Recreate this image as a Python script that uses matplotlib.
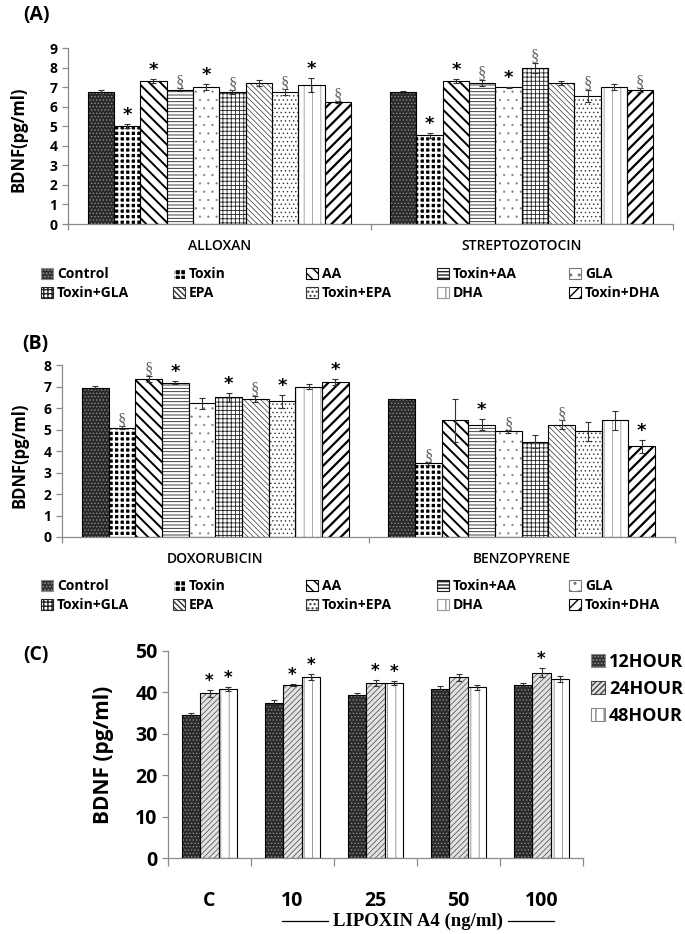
import numpy as np
import matplotlib.pyplot as plt
from matplotlib.patches import Patch
from matplotlib.lines import Line2D

plt.rcParams['font.family'] = ['Open Sans', 'DejaVu Sans']

# ---- data ----
treatments = ['Control', 'Toxin', 'AA', 'Toxin+AA', 'GLA',
              'Toxin+GLA', 'EPA', 'Toxin+EPA', 'DHA', 'Toxin+DHA']

groups_a = ['ALLOXAN', 'STREPTOZOTOCIN']
alloxan_mean = [6.73, 5.02, 7.33, 6.87, 7.00, 6.73, 7.23, 6.73, 7.12, 6.22]
alloxan_err = [0.12, 0.10, 0.10, 0.06, 0.15, 0.10, 0.15, 0.15, 0.35, 0.05]
alloxan_mark = ['', '*', '*', '§', '*', '§', '', '§', '*', '§']
strepto_mean = [6.73, 4.54, 7.33, 7.23, 7.00, 7.99, 7.23, 6.55, 7.00, 6.84]
strepto_err = [0.05, 0.12, 0.10, 0.15, 0.02, 0.25, 0.10, 0.30, 0.15, 0.10]
strepto_mark = ['', '*', '*', '§', '*', '§', '', '§', '', '§']

groups_b = ['DOXORUBICIN', 'BENZOPYRENE']
doxo_mean = [6.95, 5.08, 7.34, 7.18, 6.22, 6.49, 6.41, 6.32, 7.00, 7.21]
doxo_err = [0.07, 0.07, 0.15, 0.07, 0.25, 0.20, 0.15, 0.30, 0.12, 0.12]
doxo_mark = ['', '§', '§', '*', '', '*', '§', '*', '', '*']
benzo_mean = [6.41, 3.42, 5.42, 5.23, 4.91, 4.44, 5.23, 4.91, 5.42, 4.23]
benzo_err = [0.0, 0.05, 1.00, 0.25, 0.05, 0.30, 0.20, 0.45, 0.45, 0.30]
benzo_mark = ['', '§', '', '*', '§', '', '§', '', '', '*']

doses = ['C', '10', '25', '50', '100']
times = ['12HOUR', '24HOUR', '48HOUR']
h12_mean = [34.6, 37.4, 39.4, 40.8, 41.8]
h12_err = [0.4, 0.8, 0.4, 0.8, 0.4]
h24_mean = [39.8, 41.8, 42.2, 43.6, 44.8]
h24_err = [0.8, 0.2, 0.7, 0.9, 1.0]
h48_mean = [40.8, 43.8, 42.2, 41.2, 43.2]
h48_err = [0.4, 0.7, 0.5, 0.5, 0.8]
h12_mark = ['', '', '', '', '']
h24_mark = ['*', '*', '*', '', '*']
h48_mark = ['*', '*', '*', '', '']

# fill colour, hatch colour, hatch, hatch linewidth
styles = {
    'Control': ('#2a2a2a', '#8a8a8a', '.....', 0.6),
    'Toxin': ('black', 'white', '+++', 1.6),
    'AA': ('white', 'black', '\\\\\\', 1.4),
    'Toxin+AA': ('white', '#222222', '-----', 0.6),
    'GLA': ('white', '#777777', '..', 0.3),
    'Toxin+GLA': ('white', '#222222', '++++', 0.6),
    'EPA': ('white', '#333333', '\\\\\\\\\\\\', 0.5),
    'Toxin+EPA': ('white', '#333333', '....', 0.5),
    'DHA': ('white', '#999999', '||', 0.6),
    'Toxin+DHA': ('white', 'black', '///', 1.6),
    '12HOUR': ('#2a2a2a', '#8a8a8a', '.....', 0.6),
    '24HOUR': ('#e2e2e2', '#444444', '//////', 0.5),
    '48HOUR': ('white', '#888888', '||', 0.6),
}

AXC = '#8a8a8a'
W, H = 685, 934


def fx(px):
    return px / W


def fy(px):
    return 1 - px / H


def hatched(ax, x, h, w, name):
    fc, hc, hatch, hlw = styles[name]
    bars = ax.bar(x, h, w, color=fc, edgecolor=hc, hatch=hatch, linewidth=0, zorder=2)
    for b in bars:
        if hasattr(b, 'set_hatch_linewidth'):
            b.set_hatch_linewidth(hlw)
    ax.bar(x, h, w, fill=False, edgecolor='black', linewidth=0.8, zorder=3)


def legend_handle(name):
    fc, hc, hatch, hlw = styles[name]
    p = Patch(facecolor=fc, edgecolor=hc, hatch=hatch, linewidth=0.8)
    if hasattr(p, 'set_hatch_linewidth'):
        p.set_hatch_linewidth(min(hlw, 1.0))
    return p


def mark(ax, x, top, m, size_star=13, size_sec=12):
    if m == '*':
        ax.annotate('*', (x, top), xytext=(0, 0), textcoords='offset points',
                    ha='center', va='bottom', fontsize=size_star, fontweight='bold',
                    family='DejaVu Sans', zorder=5)
    elif m == '§':
        ax.annotate('§', (x, top), xytext=(0, -1), textcoords='offset points',
                    ha='center', va='bottom', fontsize=size_sec, color='#666666',
                    family='Liberation Serif', zorder=5)


def style_axes(ax, ymax, step, labelsize):
    ax.spines[['top', 'right']].set_visible(False)
    for s in ['left', 'bottom']:
        ax.spines[s].set_color(AXC)
        ax.spines[s].set_linewidth(0.9)
    ax.set_ylim(0, ymax)
    ax.set_yticks(np.arange(0, ymax + 0.1, step))
    ax.tick_params(axis='y', colors=AXC, length=4, width=0.9, labelcolor='black',
                   labelsize=labelsize)
    for t in ax.get_yticklabels():
        t.set_fontweight('bold')


def two_group_panel(ax, groups, means, errs, marks, ymax):
    n = len(treatments)
    w = 0.087
    for k, name in enumerate(treatments):
        xs = np.arange(len(groups)) + (k - (n - 1) / 2) * w
        hs = [m[k] for m in means]
        es = [e[k] for e in errs]
        hatched(ax, xs, hs, w, name)
        ax.errorbar(xs, hs, yerr=es, fmt='none', ecolor='#333333', elinewidth=0.8,
                    capsize=2, capthick=0.8, zorder=4)
        for g in range(len(groups)):
            mark(ax, xs[g], hs[g] + es[g], marks[g][k])
    ax.set_xlim(-0.5, len(groups) - 0.5)
    ax.set_xticks(np.arange(-0.5, len(groups)), [''] * (len(groups) + 1))
    ax.set_xticks(np.arange(len(groups)), groups, minor=True)
    ax.tick_params(axis='x', which='major', colors=AXC, length=4, width=0.9)
    ax.tick_params(axis='x', which='minor', length=0, pad=11, labelsize=10)
    for t in ax.get_xticklabels(minor=True):
        t.set_fontweight('semibold')
    style_axes(ax, ymax, 1, 10)


def treatment_legend(fig, row_top):
    cols_x = [41, 173, 306, 437, 569]
    for j in range(5):
        names = [treatments[j], treatments[j + 5]]
        fig.legend([legend_handle(nm) for nm in names], names, loc='upper left',
                   bbox_to_anchor=(fx(cols_x[j]), fy(row_top)), frameon=False,
                   borderpad=0, borderaxespad=0, handlelength=0.85, handleheight=0.85,
                   handletextpad=0.3, labelspacing=0.35,
                   prop={'size': 10, 'weight': 'bold'})


fig = plt.figure(figsize=(W / 100, H / 100), dpi=100)

# ---- panel A ----
axA = fig.add_axes([fx(68), fy(224), fx(673) - fx(68), fy(48) - fy(224)])
two_group_panel(axA, groups_a, [alloxan_mean, strepto_mean], [alloxan_err, strepto_err],
                [alloxan_mark, strepto_mark], 9)
fig.text(fx(19), fy(139), 'BDNF(pg/ml)', rotation=90, ha='center', va='center',
         fontsize=12, fontweight='bold')
fig.text(fx(23), fy(15), '(A)', ha='left', va='center', fontsize=14, fontweight='bold')
treatment_legend(fig, 267)

# ---- panel B ----
axB = fig.add_axes([fx(62), fy(537), fx(675) - fx(62), fy(365) - fy(537)])
two_group_panel(axB, groups_b, [doxo_mean, benzo_mean], [doxo_err, benzo_err],
                [doxo_mark, benzo_mark], 8)
fig.text(fx(20), fy(455), 'BDNF(pg/ml)', rotation=90, ha='center', va='center',
         fontsize=12, fontweight='bold')
fig.text(fx(22), fy(344), '(B)', ha='left', va='center', fontsize=14, fontweight='bold')
treatment_legend(fig, 579)

# ---- panel C ----
axC = fig.add_axes([fx(168), fy(858), fx(583) - fx(168), fy(651) - fy(858)])
wc = 0.223
c_means = [h12_mean, h24_mean, h48_mean]
c_errs = [h12_err, h24_err, h48_err]
c_marks = [h12_mark, h24_mark, h48_mark]
for k, name in enumerate(times):
    xs = np.arange(len(doses)) + (k - 1) * wc
    hatched(axC, xs, c_means[k], wc, name)
    axC.errorbar(xs, c_means[k], yerr=c_errs[k], fmt='none', ecolor='#333333',
                 elinewidth=0.8, capsize=2, capthick=0.8, zorder=4)
    for i in range(len(doses)):
        mark(axC, xs[i], c_means[k][i] + c_errs[k][i], c_marks[k][i], size_star=12)
axC.set_xlim(-0.5, len(doses) - 0.5)
axC.set_xticks(np.arange(-0.5, len(doses)), [''] * (len(doses) + 1))
axC.set_xticks(np.arange(len(doses)), doses, minor=True)
axC.tick_params(axis='x', which='major', colors=AXC, length=6, width=0.9)
axC.tick_params(axis='x', which='minor', length=0, pad=24, labelsize=14)
for t in axC.get_xticklabels(minor=True):
    t.set_fontweight('bold')
style_axes(axC, 50, 10, 14)
fig.text(fx(103), fy(755), 'BDNF (pg/ml)', rotation=90, ha='center', va='center',
         fontsize=15, fontweight='bold')
fig.text(fx(23), fy(655), '(C)', ha='left', va='center', fontsize=14, fontweight='bold')
fig.legend([legend_handle(t) for t in times], times, loc='upper left',
           bbox_to_anchor=(fx(591), fy(653)), frameon=False, borderpad=0,
           borderaxespad=0, handlelength=0.75, handleheight=0.75, handletextpad=0.25,
           labelspacing=0.5, prop={'size': 13, 'weight': 'bold'})

# x axis title with rules either side
fig.text(fx(418), fy(921), 'LIPOXIN A4 (ng/ml)', ha='center', va='center',
         fontsize=13.5, fontweight='bold', family='Liberation Serif')
fig.add_artist(Line2D([fx(282), fx(328)], [fy(921), fy(921)], color='black', lw=0.9))
fig.add_artist(Line2D([fx(508), fx(554)], [fy(921), fy(921)], color='black', lw=0.9))

fig.savefig('out.png', dpi=100)
